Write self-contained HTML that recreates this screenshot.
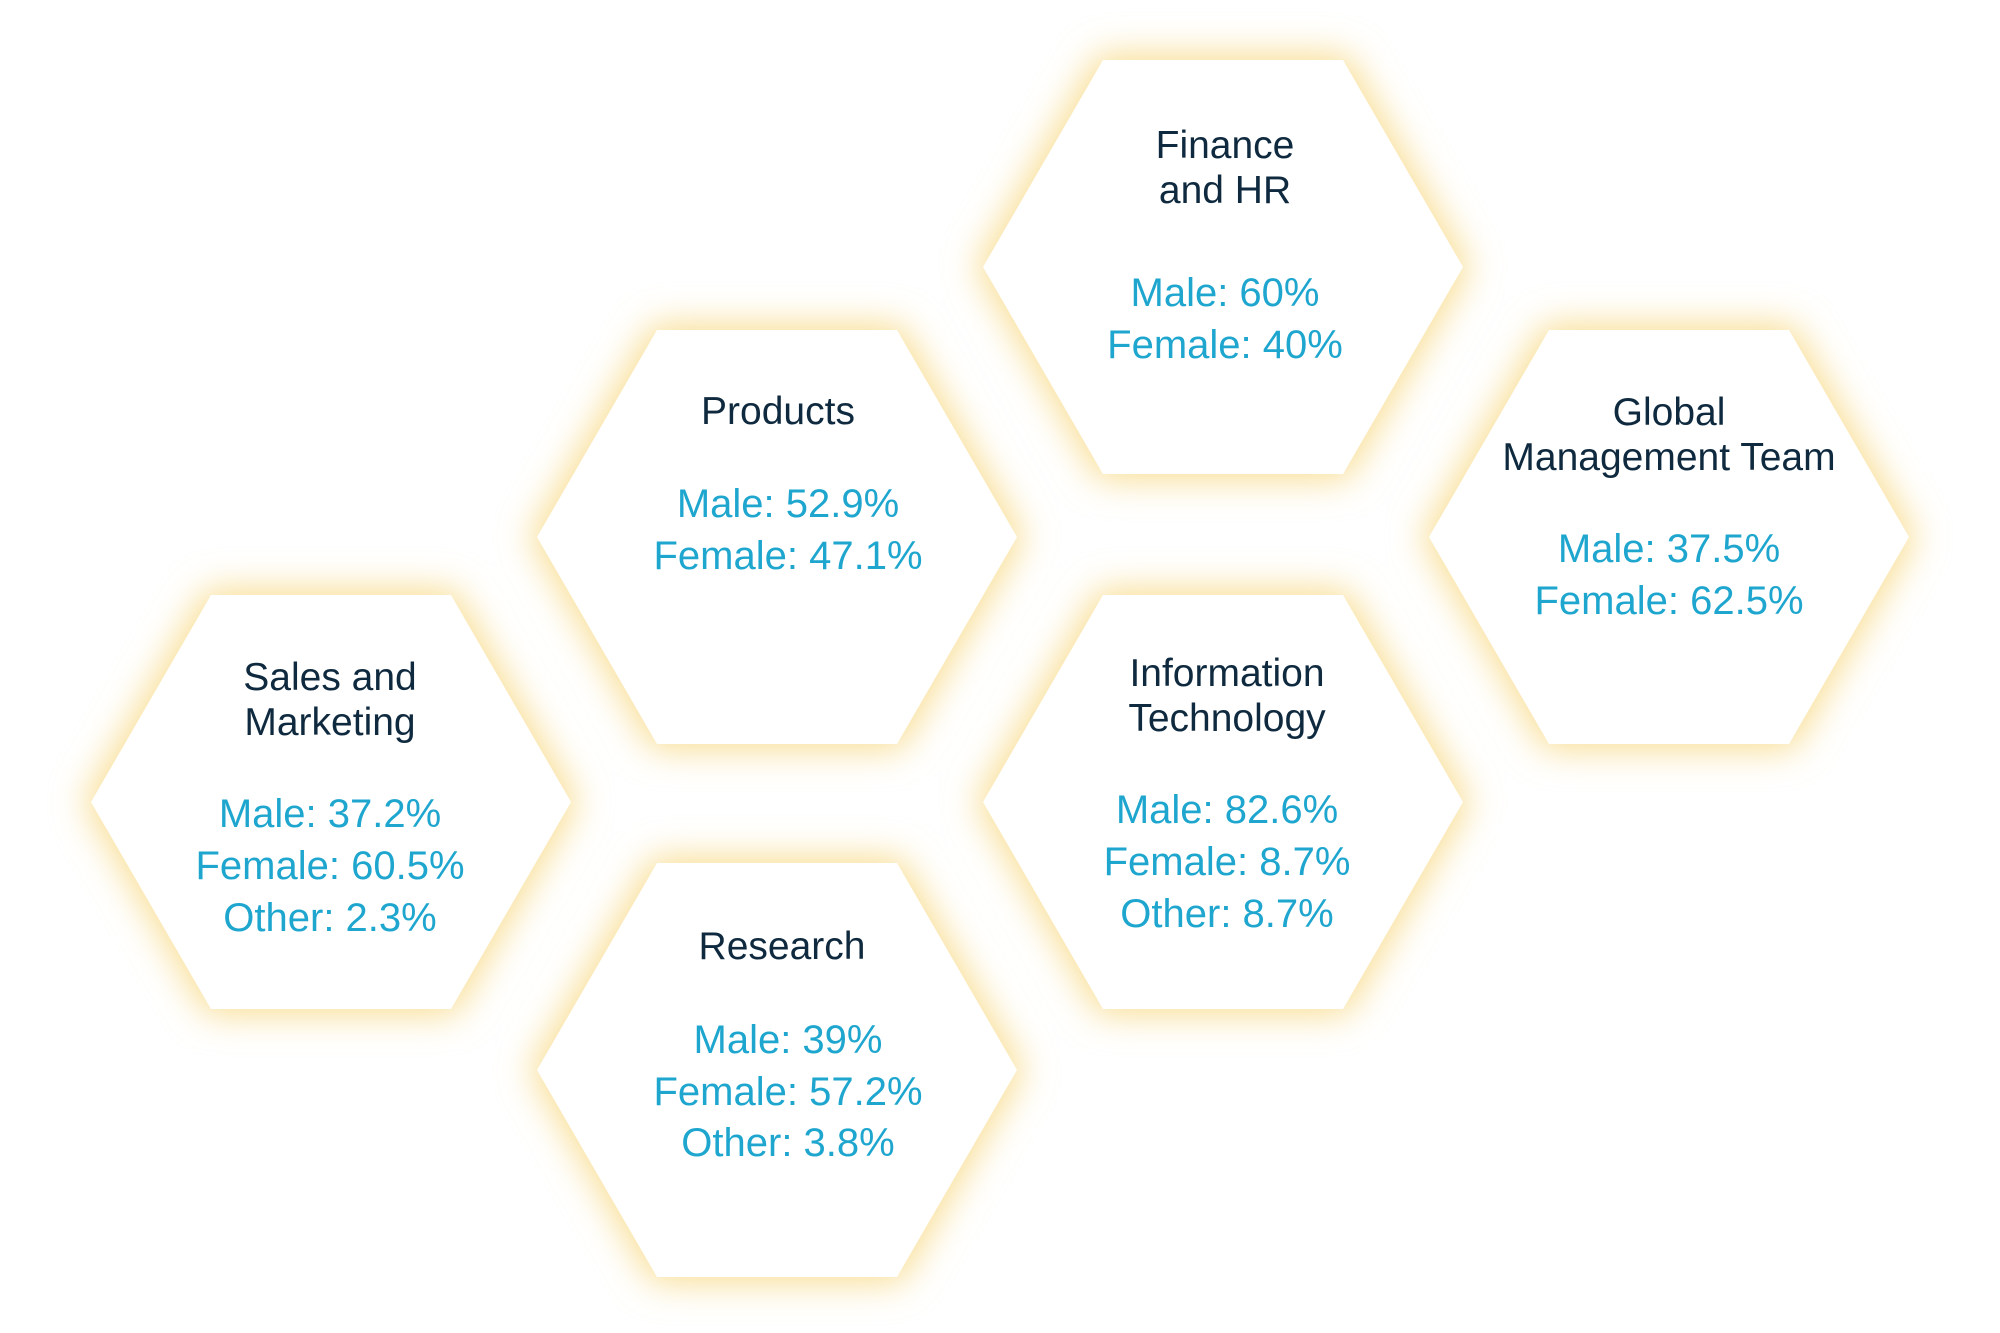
<!DOCTYPE html>
<html><head><meta charset="utf-8"><style>
html,body{margin:0;padding:0;background:#fff;}
svg{display:block;}
.t{font-family:"Liberation Sans",sans-serif;font-size:39px;fill:#0f2a3f;text-anchor:middle;}
.v{font-family:"Liberation Sans",sans-serif;font-size:40px;fill:#1ea6cf;text-anchor:middle;}
</style></head><body>
<svg width="2000" height="1333" viewBox="0 0 2000 1333" xmlns="http://www.w3.org/2000/svg">
<defs>
<filter id="g" x="-30%" y="-30%" width="160%" height="160%"><feGaussianBlur stdDeviation="18"/></filter>
<polygon id="h" points="-240,0 -120,-207 120,-207 240,0 120,207 -120,207"/>
<polygon id="hg" points="-246,0 -123,-212 123,-212 246,0 123,212 -123,212"/>
</defs>
<g transform="translate(-5,0)">
<g fill="#f8dc8e" filter="url(#g)">
<use href="#hg" x="1228" y="267"/>
<use href="#hg" x="782" y="537"/>
<use href="#hg" x="1674" y="537"/>
<use href="#hg" x="336" y="802"/>
<use href="#hg" x="1228" y="802"/>
<use href="#hg" x="782" y="1070"/>
</g>
<g fill="#fff">
<use href="#h" x="1228" y="267"/>
<use href="#h" x="782" y="537"/>
<use href="#h" x="1674" y="537"/>
<use href="#h" x="336" y="802"/>
<use href="#h" x="1228" y="802"/>
<use href="#h" x="782" y="1070"/>
</g>
<text class="t" x="1230" y="158">Finance</text>
<text class="t" x="1230" y="203">and HR</text>
<text class="v" x="1230" y="306">Male: 60%</text>
<text class="v" x="1230" y="358">Female: 40%</text>

<text class="t" x="783" y="424">Products</text>
<text class="v" x="793" y="517">Male: 52.9%</text>
<text class="v" x="793" y="569">Female: 47.1%</text>

<text class="t" x="1674" y="425">Global</text>
<text class="t" x="1674" y="470">Management Team</text>
<text class="v" x="1674" y="562">Male: 37.5%</text>
<text class="v" x="1674" y="614">Female: 62.5%</text>

<text class="t" x="335" y="690">Sales and</text>
<text class="t" x="335" y="735">Marketing</text>
<text class="v" x="335" y="827">Male: 37.2%</text>
<text class="v" x="335" y="879">Female: 60.5%</text>
<text class="v" x="335" y="931">Other: 2.3%</text>

<text class="t" x="1232" y="686">Information</text>
<text class="t" x="1232" y="731">Technology</text>
<text class="v" x="1232" y="823">Male: 82.6%</text>
<text class="v" x="1232" y="875">Female: 8.7%</text>
<text class="v" x="1232" y="927">Other: 8.7%</text>

<text class="t" x="787" y="959">Research</text>
<text class="v" x="793" y="1053">Male: 39%</text>
<text class="v" x="793" y="1105">Female: 57.2%</text>
<text class="v" x="793" y="1156">Other: 3.8%</text>
</g>
</svg>
</body></html>
